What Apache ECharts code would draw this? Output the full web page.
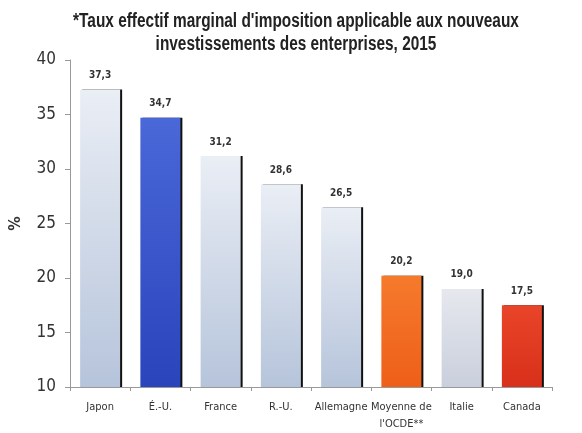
<!DOCTYPE html>
<html><head><meta charset="utf-8">
<script src="https://cdn.jsdelivr.net/npm/echarts@6/dist/echarts.min.js"></script>
<style>html,body{margin:0;padding:0;background:#fff}#c{width:582px;height:433px}</style>
</head><body><div id="c"></div>
<script>
const titleLines = ["*Taux effectif marginal d'imposition applicable aux nouveaux", "investissements des enterprises, 2015"];
const categories = ["Japon", "É.-U.", "France", "R.-U.", "Allemagne", "Moyenne de\nl'OCDE**", "Italie", "Canada"];
const values = [37.3, 34.7, 31.2, 28.6, 26.5, 20.2, 19.0, 17.5];
const valueLabels = ["37,3", "34,7", "31,2", "28,6", "26,5", "20,2", "19,0", "17,5"];
const yTicks = [10, 15, 20, 25, 30, 35, 40];

const FONT = '"Liberation Sans Narrow", "Arial Narrow", "DejaVu Sans Condensed", sans-serif';
const grad = (top, bottom) => new echarts.graphic.LinearGradient(0, 0, 0, 1, [{offset: 0, color: top}, {offset: 1, color: bottom}]);
const fills = [
  grad('#eaeef5', '#b6c4db'),
  grad('#4a68d8', '#2a44bc'),
  grad('#eaeef5', '#b6c4db'),
  grad('#eaeef5', '#b6c4db'),
  grad('#eaeef5', '#b6c4db'),
  grad('#f57a2c', '#ee5f1a'),
  grad('#e6e8ee', '#c9cfdc'),
  grad('#e9452a', '#d8301a')
];

const chart = echarts.init(document.getElementById('c'));
chart.setOption({
  animation: false,
  graphic: titleLines.map((t, i) => ({
    type: 'text', x: 296, y: 21 + i * 23, scaleX: 0.77,
    style: {text: t, x: 0, y: 0, textAlign: 'center', textVerticalAlign: 'middle',
      font: 'bold 20px "Liberation Sans", Arial, sans-serif', fill: '#222'}
  })),
  grid: {left: 68, right: 30, top: 60, bottom: 46},
  xAxis: {
    type: 'category', data: categories,
    axisLine: {lineStyle: {color: '#999'}},
    axisTick: {show: true, length: 4, lineStyle: {color: '#999'}},
    axisLabel: {fontFamily: FONT, fontSize: 11, color: '#333', margin: 12, lineHeight: 17, interval: 0}
  },
  yAxis: {
    type: 'value', min: 10, max: 40, interval: 5,
    name: '%', nameLocation: 'middle', nameGap: 46, nameRotate: 90,
    nameTextStyle: {fontFamily: FONT, fontSize: 16, color: '#333', fontWeight: 'bold'},
    axisLine: {show: true, lineStyle: {color: '#999'}},
    axisTick: {show: true, length: 5, lineStyle: {color: '#999'}},
    splitLine: {show: false},
    axisLabel: {fontFamily: FONT, fontSize: 17, color: '#333', margin: 14,
      formatter: v => yTicks.includes(v) ? String(v) : ''}
  },
  series: [{
    type: 'bar', barWidth: 40,
    data: values.map((v, i) => ({value: v, itemStyle: {color: fills[i]}})),
    itemStyle: {shadowColor: '#111', shadowOffsetX: 2, shadowOffsetY: 0, shadowBlur: 0},
    label: {show: true, position: 'top', distance: 9, fontFamily: FONT, fontWeight: 'bold', fontSize: 10, color: '#333',
      formatter: p => valueLabels[p.dataIndex]}
  }]
});
</script></body></html>
